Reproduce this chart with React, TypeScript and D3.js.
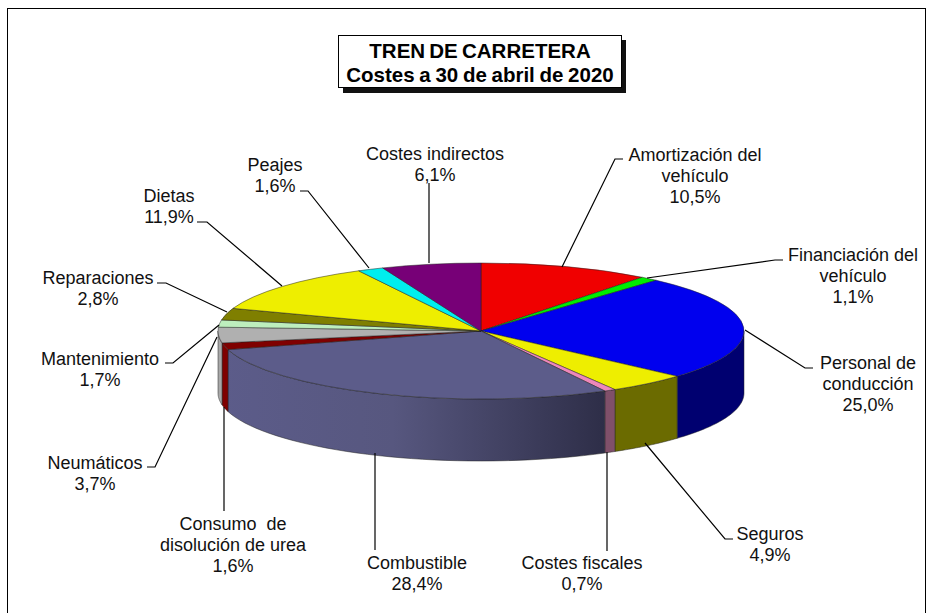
import React from "react";
import * as d3 from "d3";

const categories = ["Amortización del vehículo","Financiación del vehículo","Personal de conducción","Seguros","Costes fiscales","Combustible","Consumo de disolución de urea","Neumáticos","Mantenimiento","Reparaciones","Dietas","Peajes","Costes indirectos"];
const values = [10.5,1.1,25.0,4.9,0.7,28.4,1.6,3.7,1.7,2.8,11.9,1.6,6.1];
const topColors = ["#f00000","#00ee00","#0000ee","#eeee00","#ee88bb","#5c5c8a","#7f0000","#b0b0b0","#bdeebd","#7f7f00","#eeee00","#00eeee","#770077"];
const sideColors = ["#800000","#008000","#000070","#6b6b00","#80506a","url(#sideGrad)","#7f0000","#a8a8a8","#a0c0a0","#606000","#808000","#008080","#400040"];

// label layout: text lines, centre x, first baseline y, leader points
const labelLines = [
  ["Amortización del","vehículo","10,5%"],["Financiación del","vehículo","1,1%"],["Personal de","conducción","25,0%"],["Seguros","4,9%"],["Costes fiscales","0,7%"],["Combustible","28,4%"],["Consumo  de","disolución de urea","1,6%"],["Neumáticos","3,7%"],["Mantenimiento","1,7%"],["Reparaciones","2,8%"],["Dietas","11,9%"],["Peajes","1,6%"],["Costes indirectos","6,1%"],
];
const labelX = [695,853,868,770,582,417,233,95,100,98,169,275,435];
const labelY = [161,261,369,540,569,569,530,469,365,284,202,171,160];
const leaders: [number,number][][] = [
  [[623,159],[615,159],[562,267]],
  [[783,260],[775,260],[647,278]],
  [[813,368],[805,368],[745,330]],
  [[733,539],[725,539],[645,443]],
  [[607,551],[607,452]],
  [[375,550],[375,453]],
  [[224,511],[224,407]],
  [[147,467],[155,467],[217,337]],
  [[165,363],[173,363],[219,325]],
  [[157,283],[166,283],[227,312]],
  [[197,222],[207,222],[282,286]],
  [[300,191],[308,191],[369,268]],
  [[429,183],[429,263]],
];

const cx = 481, cy = 331, rx = 263, ry = 68, depth = 62;

export default function App() {
  const arcs = d3.pie<number>().sort(null)(values);
  const arc = d3.arc<d3.PieArcDatum<number>>().innerRadius(0).outerRadius(rx);
  const ex = (a: number) => cx + rx * Math.sin(a);
  const ey = (a: number) => cy - ry * Math.cos(a);
  const line = d3.line();
  const wall = (a0: number, a1: number) => {
    const s = Math.max(a0, Math.PI / 2), e = Math.min(a1, 1.5 * Math.PI);
    if (e <= s) return null;
    const ts = d3.range(0, 41).map((i) => s + ((e - s) * i) / 40);
    const pts = ts.map((t) => [ex(t), ey(t)] as [number, number]);
    const back = ts.slice().reverse().map((t) => [ex(t), ey(t) + depth] as [number, number]);
    return line(pts.concat(back)) + "Z";
  };
  return (
    <svg width={935} height={613} style={{ position: "fixed", left: 0, top: 0, background: "#fff" }} fontFamily="'Liberation Sans', Arial, sans-serif">
      <defs>
        <linearGradient id="sideGrad" gradientUnits="userSpaceOnUse" x1={220} x2={605} y1={0} y2={0}>
          <stop offset="0" stopColor="#5c5c8a" />
          <stop offset="0.45" stopColor="#57577f" />
          <stop offset="1" stopColor="#2e2e48" />
        </linearGradient>
      </defs>
      <rect x={7.5} y={8.5} width={918} height={620} fill="#fff" stroke="#000" />
      <g>
        {arcs.map((d, i) => {
          const p = wall(d.startAngle, d.endAngle);
          return p ? <path key={i} d={p} fill={sideColors[i]} stroke="#222" strokeWidth={0.5} /> : null;
        })}
      </g>
      <g transform={`translate(${cx},${cy}) scale(1,${ry / rx})`}>
        {arcs.map((d, i) => (
          <path key={i} d={arc(d)!} fill={topColors[i]} stroke="#222" strokeWidth={0.5} vectorEffect="non-scaling-stroke" />
        ))}
      </g>
      <g fill="none" stroke="#000" strokeWidth={1.2}>
        {leaders.map((l, i) => <path key={i} d={line(l)!} />)}
      </g>
      <g fontSize={18} textAnchor="middle" fill="#111">
        {labelLines.map((ls, i) => (
          <text key={i} x={labelX[i]} y={labelY[i]}>
            {ls.map((t, j) => <tspan key={j} x={labelX[i]} dy={j ? 21 : 0} style={{ whiteSpace: "pre" }}>{t}</tspan>)}
          </text>
        ))}
      </g>
      <rect x={343} y={40} width={283} height={53} fill="#111" />
      <rect x={338.5} y={35.5} width={283} height={52} fill="#fff" stroke="#000" />
      <g fontSize={20.5} fontWeight="bold" textAnchor="middle">
        <text x={480} y={58} wordSpacing={-1.5}>TREN DE CARRETERA</text>
        <text x={480} y={82} wordSpacing={-1}>Costes a 30 de abril de 2020</text>
      </g>
    </svg>
  );
}
